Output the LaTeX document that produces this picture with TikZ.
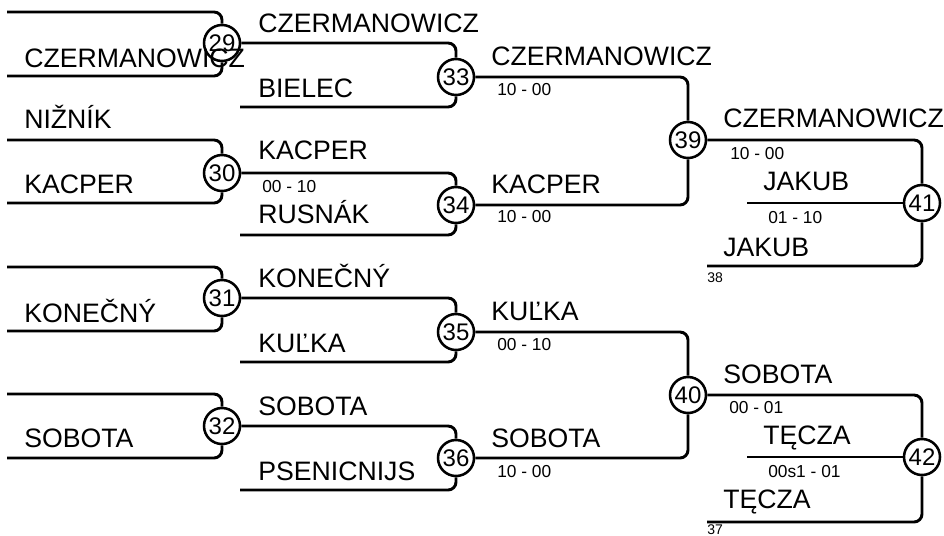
\documentclass[tikz,border=0pt]{standalone}
\usepackage{fontspec}
\setmainfont{Liberation Sans}

\begin{document}
\begin{tikzpicture}[
    x=0.75pt, y=-0.75pt,
    every node/.style={inner sep=0pt},
    match/.style={circle, draw, line width=1.9pt, minimum size=27pt,
        font=\fontsize{18}{18}\selectfont},
    bline/.style={line width=2.2pt, rounded corners=6pt},
    plname/.style={anchor=base west, font=\fontsize{20}{20}\selectfont},
    scoretext/.style={anchor=base west, font=\fontsize{13}{13}\selectfont},
    seedno/.style={anchor=base west, font=\fontsize{10.5}{10.5}\selectfont},
]

\useasboundingbox (0,0) rectangle (944,535);

% X positions of the rounds
\def\xa{222}
\def\xb{456}
\def\xc{688}
\def\xd{922}

% Match circles
\node[match] (m29) at (\xa, 43) {29};
\node[match] (m30) at (\xa, 173) {30};
\node[match] (m31) at (\xa, 298) {31};
\node[match] (m32) at (\xa, 426) {32};
\node[match] (m33) at (\xb, 77) {33};
\node[match] (m34) at (\xb, 205) {34};
\node[match] (m35) at (\xb, 332) {35};
\node[match] (m36) at (\xb, 458) {36};
\node[match] (m39) at (\xc, 140) {39};
\node[match] (m40) at (\xc, 395) {40};
\node[match] (m41) at (\xd, 203) {41};
\node[match] (m42) at (\xd, 457) {42};

% Entry line starts
\coordinate (e29a) at (7, 12);
\coordinate (e29b) at (7, 76);
\coordinate (e30a) at (7, 140);
\coordinate (e30b) at (7, 203);
\coordinate (e31a) at (7, 267);
\coordinate (e31b) at (7, 331);
\coordinate (e32a) at (7, 394);
\coordinate (e32b) at (7, 458);
\coordinate (e33b) at (240, 107);
\coordinate (e34b) at (240, 235);
\coordinate (e35b) at (240, 362);
\coordinate (e36b) at (240, 490);
\coordinate (e41b) at (707, 266);
\coordinate (e41c) at (747, 203);
\coordinate (e42b) at (707, 522);
\coordinate (e42c) at (747, 457);

% Entry lines into matches
\foreach \e/\m in {e29a/m29, e29b/m29, e30a/m30, e30b/m30, e31a/m31, e31b/m31,
    e32a/m32, e32b/m32, e33b/m33, e34b/m34, e35b/m35, e36b/m36, e41b/m41, e42b/m42} {
    \draw[bline] (\e) -| (\m);
}
\draw[bline] (e41c) -- (m41);
\draw[bline] (e42c) -- (m42);

% Winner lines between matches
\foreach \a/\b in {m29/m33, m30/m34, m31/m35, m32/m36, m33/m39, m34/m39,
    m35/m40, m36/m40, m39/m41, m40/m42} {
    \draw[bline] (\a) -| (\b);
}

% Round 1 names
\node[plname] (r1a) at (24, 67) {CZERMANOWICZ};
\node[plname] (r1b) at (24, 128) {NIŽNÍK};
\node[plname] (r1c) at (24, 193) {KACPER};
\node[plname] (r1d) at (24, 322) {KONEČNÝ};
\node[plname] (r1e) at (24, 447) {SOBOTA};

% Round 2 names
\node[plname] (r2a) at (258, 33) {CZERMANOWICZ};
\node[plname] (r2b) at (258, 97) {BIELEC};
\node[plname] (r2c) at (258, 159) {KACPER};
\node[scoretext] (s30) at (262, 192) {00 - 10};
\node[plname] (r2d) at (258, 223) {RUSNÁK};
\node[plname] (r2e) at (258, 287) {KONEČNÝ};
\node[plname] (r2f) at (258, 352) {KUĽKA};
\node[plname] (r2g) at (258, 415) {SOBOTA};
\node[plname] (r2h) at (258, 480) {PSENICNIJS};

% Round 3 names
\node[plname] (r3a) at (491, 65) {CZERMANOWICZ};
\node[scoretext] (s33) at (497, 95) {10 - 00};
\node[plname] (r3b) at (491, 193) {KACPER};
\node[scoretext] (s34) at (497, 222) {10 - 00};
\node[plname] (r3c) at (491, 320) {KUĽKA};
\node[scoretext] (s35) at (497, 350) {00 - 10};
\node[plname] (r3d) at (491, 447) {SOBOTA};
\node[scoretext] (s36) at (497, 477) {10 - 00};

% Round 4 names
\node[plname] (r4a) at (723, 127) {CZERMANOWICZ};
\node[scoretext] (s39) at (730, 159) {10 - 00};
\node[plname] (r4b) at (763, 190) {JAKUB};
\node[scoretext] (s41) at (768, 223) {01 - 10};
\node[plname] (r4c) at (723, 256) {JAKUB};
\node[seedno] (n38) at (707, 282) {38};
\node[plname] (r4d) at (723, 383) {SOBOTA};
\node[scoretext] (s40) at (729, 413) {00 - 01};
\node[plname] (r4e) at (763, 444) {TĘCZA};
\node[scoretext] (s42) at (768, 477) {00s1 - 01};
\node[plname] (r4f) at (723, 508) {TĘCZA};
\node[seedno] (n37) at (707, 534) {37};

\end{tikzpicture}
\end{document}
